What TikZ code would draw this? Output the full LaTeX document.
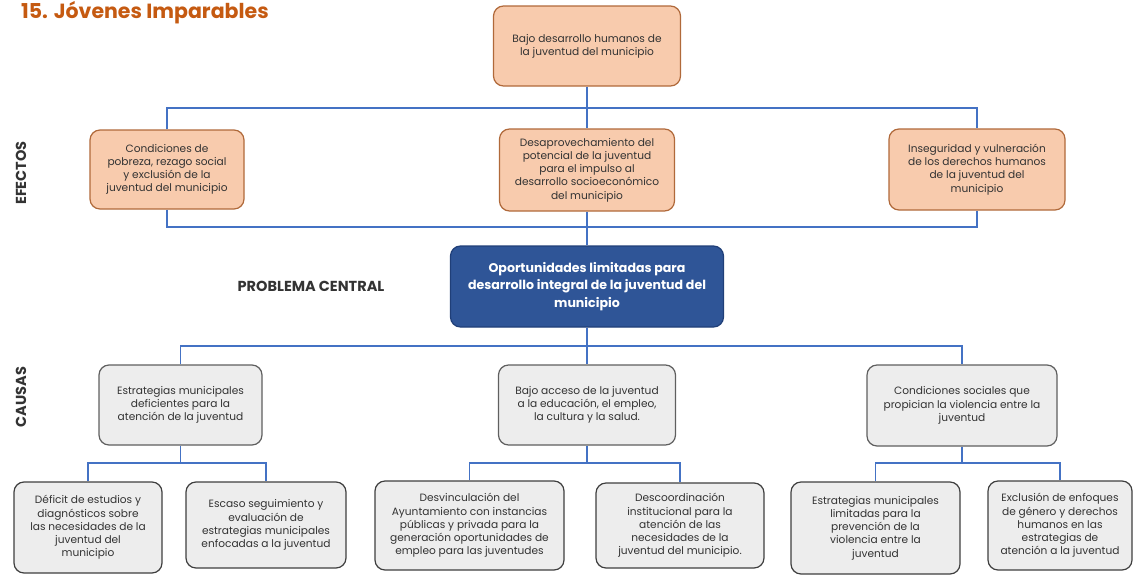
\documentclass[tikz,border=0pt]{standalone}
\usepackage{fontspec}
\setmainfont{Poppins}
\definecolor{orfill}{HTML}{F8CBAD}
\definecolor{ordraw}{HTML}{B0693A}
\definecolor{titlec}{HTML}{C55A11}
\definecolor{cenfill}{HTML}{2F5597}
\definecolor{cendraw}{HTML}{203F78}
\definecolor{gyfill}{HTML}{EDEDED}
\definecolor{gydraw}{HTML}{5F5F5F}
\definecolor{btdraw}{HTML}{3F3F3F}
\definecolor{linec}{HTML}{4472C4}
\definecolor{txt}{HTML}{333333}
\tikzset{
  box/.style={rounded corners=10pt, line width=1.2pt, align=center, inner sep=2pt,
    text=txt, font=\fontsize{10.6}{13.2}\selectfont},
  effbox/.style={box, fill=orfill, draw=ordraw},
  cenbox/.style={rounded corners=10pt, line width=1.2pt, align=center, fill=cenfill, draw=cendraw,
    text=white, font=\bfseries\fontsize{12.6}{17.5}\selectfont},
  causebox/.style={box, fill=gyfill, draw=gydraw},
  subbox/.style={box, fill=gyfill, draw=btdraw},
  conn/.style={draw=linec, line width=1.3pt},
  side/.style={font=\bfseries\fontsize{14.5}{16}\selectfont, text=txt}
}
\begin{document}
\begin{tikzpicture}[x=1pt,y=-1pt]
\useasboundingbox (0,0) rectangle (1135,576);
% title
\node[anchor=base west, text=titlec, font=\bfseries\fontsize{20.5}{24}\selectfont, inner sep=0pt] (title) at (21,18) {15. Jóvenes Imparables};
% labels
\node[side, rotate=90] (efectos) at (21,173) {EFECTOS};
\node[side, rotate=90] (causas) at (21,397) {CAUSAS};
\node[side] (pc) at (311,286) {PROBLEMA CENTRAL};
% nodes
\node[effbox, minimum width=187pt, minimum height=80pt] (top) at (587,46) {Bajo desarrollo humanos de\\la juventud del municipio};
\node[effbox, minimum width=154pt, minimum height=79pt] (e1) at (167,169.5) {Condiciones de\\pobreza, rezago social\\y exclusión de la\\juventud del municipio};
\node[effbox, minimum width=175pt, minimum height=82pt] (e2) at (587,170) {Desaprovechamiento del\\potencial de la juventud\\para el impulso al\\desarrollo socioeconómico\\del municipio};
\node[effbox, minimum width=176pt, minimum height=81pt] (e3) at (977,169.5) {Inseguridad y vulneración\\de los derechos humanos\\de la juventud del\\municipio};
\node[cenbox, minimum width=273pt, minimum height=81pt] (cen) at (587,286.5) {Oportunidades limitadas para\\desarrollo integral de la juventud del\\municipio};
\node[causebox, minimum width=163pt, minimum height=80pt] (c1) at (180.5,405) {Estrategias municipales\\deficientes para la\\atención de la juventud};
\node[causebox, minimum width=177pt, minimum height=80pt] (c2) at (587,405) {Bajo acceso de la juventud\\a la educación, el empleo,\\la cultura y la salud.};
\node[causebox, minimum width=190pt, minimum height=81pt] (c3) at (962,405.5) {Condiciones sociales que\\propician la violencia entre la\\juventud};
\node[subbox, minimum width=148pt, minimum height=91pt] (b1) at (88,527.5) {Déficit de estudios y\\diagnósticos sobre\\las necesidades de la\\juventud del\\municipio};
\node[subbox, minimum width=160pt, minimum height=86pt] (b2) at (266,525) {Escaso seguimiento y\\evaluación de\\estrategias municipales\\enfocadas a la juventud};
\node[subbox, minimum width=189pt, minimum height=89pt] (b3) at (469.5,525.5) {Desvinculación del\\Ayuntamiento con instancias\\públicas y privada para la\\generación oportunidades de\\empleo para las juventudes};
\node[subbox, minimum width=168pt, minimum height=85pt] (b4) at (680,525.5) {Descoordinación\\institucional para la\\atención de las\\necesidades de la\\juventud del municipio.};
\node[subbox, minimum width=169pt, minimum height=92pt] (b5) at (875.5,528) {Estrategias municipales\\limitadas para la\\prevención de la\\violencia entre la\\juventud};
\node[subbox, minimum width=144pt, minimum height=89pt] (b6) at (1060,525.5) {Exclusión de enfoques\\de género y derechos\\humanos en las\\estrategias de\\atención a la juventud};
% connector levels
\coordinate (h1) at (0,108);
\coordinate (h2) at (0,227);
\coordinate (h3) at (0,346);
\coordinate (h4) at (0,463);
% effects top
\draw[conn] (top.south) -- (e2.north);
\draw[conn] (e1.north) -- (e1.north |- h1) -- (e3.north |- h1) -- (e3.north);
% effects bottom
\draw[conn] (e1.south) -- (e1.south |- h2) -- (e3.south |- h2) -- (e3.south);
\draw[conn] (e2.south) -- (cen.north);
% causes
\draw[conn] (cen.south) -- (c2.north);
\draw[conn] (c1.north) -- (c1.north |- h3) -- (c3.north |- h3) -- (c3.north);
% sub causes
\draw[conn] (c1.south) -- (c1.south |- h4);
\draw[conn] (b1.north) -- (b1.north |- h4) -- (b2.north |- h4) -- (b2.north);
\draw[conn] (c2.south) -- (c2.south |- h4);
\draw[conn] (b3.north) -- (b3.north |- h4) -- (b4.north |- h4) -- (b4.north);
\draw[conn] (c3.south) -- (c3.south |- h4);
\draw[conn] (b5.north) -- (b5.north |- h4) -- (b6.north |- h4) -- (b6.north);
\end{tikzpicture}
\end{document}
